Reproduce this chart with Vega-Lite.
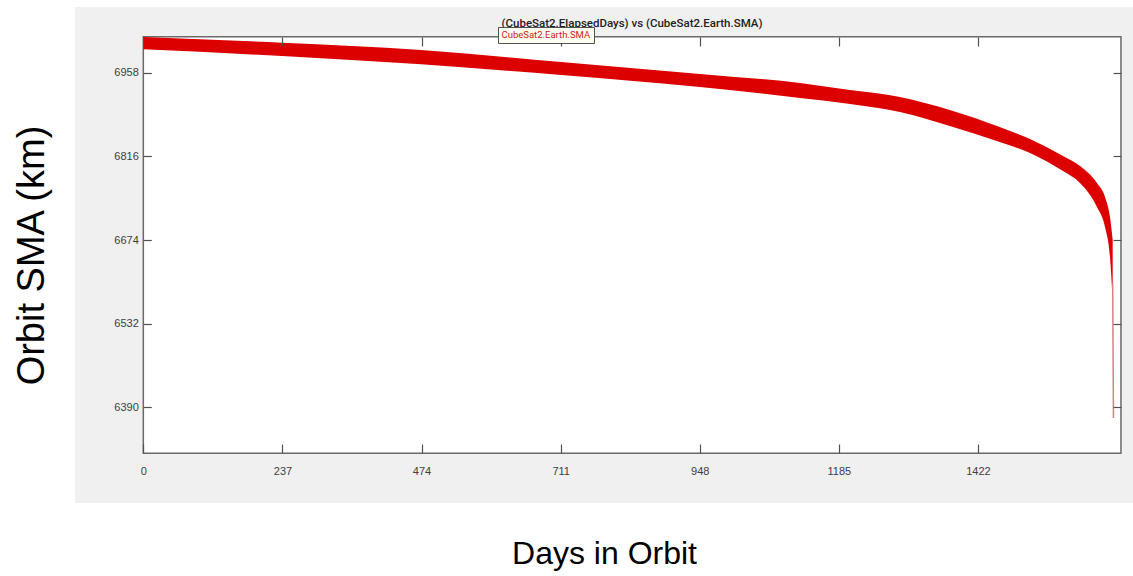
{
  "$schema": "https://vega.github.io/schema/vega-lite/v6.json",
  "width": 1058,
  "height": 496,
  "autosize": {"type": "none"},
  "padding": {"left": 75, "top": 7, "right": 0, "bottom": 73},
  "background": "white",
  "view": {"fill": "#f0f0f0", "stroke": null},
  "title": {
    "text": "(CubeSat2.ElapsedDays) vs (CubeSat2.Earth.SMA)",
    "font": "Roboto",
    "fontSize": 11.5,
    "fontWeight": 500,
    "color": "#222222",
    "anchor": "middle",
    "baseline": "middle",
    "offset": -16,
    "dx": 28,
    "dy": 12
  },
  "datasets": {
    "band": [
      {"day": 0, "hi": 7018.6, "lo": 6997.7},
      {"day": 236.3, "hi": 7008.9, "lo": 6986.3},
      {"day": 473.1, "hi": 6996.5, "lo": 6972.3},
      {"day": 711.6, "hi": 6976.2, "lo": 6954.1},
      {"day": 948.4, "hi": 6955.8, "lo": 6933.7},
      {"day": 1118.8, "hi": 6940.5, "lo": 6915.1},
      {"day": 1204, "hi": 6928.6, "lo": 6904.9},
      {"day": 1289, "hi": 6916.8, "lo": 6891.3},
      {"day": 1374, "hi": 6894.7, "lo": 6867.5},
      {"day": 1459, "hi": 6865.8, "lo": 6840.4},
      {"day": 1510.6, "hi": 6845.5, "lo": 6821.7},
      {"day": 1566.8, "hi": 6816.6, "lo": 6791.1},
      {"day": 1595.8, "hi": 6799.6, "lo": 6770.7},
      {"day": 1624.7, "hi": 6770.7, "lo": 6730.0},
      {"day": 1638.4, "hi": 6747.0, "lo": 6696.1},
      {"day": 1646.9, "hi": 6713.0, "lo": 6645.1},
      {"day": 1651.5, "hi": 6674.0, "lo": 6572.1}
    ],
    "tail": [
      {"day": 1651.5, "sma": 6600},
      {"day": 1652.8, "sma": 6372}
    ]
  },
  "resolve": {"axis": {"x": "independent", "y": "independent"}},
  "layer": [
    {
      "data": {"values": [{"box": "frame"}]},
      "mark": {"type": "rect", "fill": "white", "stroke": "#6a6a6a", "strokeWidth": 1.5},
      "encoding": {
        "x": {
          "datum": 0,
          "type": "quantitative",
          "scale": {"domain": [-116.4, 1686.1], "nice": false, "zero": false},
          "axis": {
            "orient": "bottom",
            "offset": -50,
            "values": [0, 237, 474, 711, 948, 1185, 1422],
            "format": "d",
            "title": "Days in Orbit",
            "titleFontSize": 32,
            "titlePadding": 62,
            "tickSize": -9,
            "labelPadding": 21,
            "labelFlush": false,
            "labelOverlap": false,
            "zindex": 1
          }
        },
        "x2": {"datum": 1665.6},
        "y": {
          "datum": 6311.9,
          "type": "quantitative",
          "scale": {"domain": [6227.6, 7069.5], "nice": false, "zero": false},
          "axis": {
            "orient": "left",
            "offset": -68.3,
            "values": [6390, 6532, 6674, 6816, 6958],
            "format": "d",
            "title": "Orbit SMA (km)",
            "titleFontSize": 38,
            "titlePadding": 62,
            "tickSize": -8,
            "labelPadding": 13,
            "labelFlush": false,
            "labelOverlap": false,
            "zindex": 1
          }
        },
        "y2": {"datum": 7019.1}
      }
    },
    {
      "data": {"name": "band"},
      "mark": {"type": "area", "interpolate": "monotone"},
      "encoding": {
        "x": {
          "field": "day",
          "type": "quantitative",
          "axis": {
            "orient": "top",
            "offset": -30,
            "values": [237, 474, 711, 948, 1185, 1422],
            "labels": false,
            "title": null,
            "tickSize": -9,
            "zindex": 1
          }
        },
        "y": {
          "field": "hi",
          "type": "quantitative",
          "axis": {
            "orient": "right",
            "offset": -12,
            "values": [6390, 6532, 6674, 6816, 6958],
            "labels": false,
            "title": null,
            "tickSize": -8,
            "zindex": 1
          }
        },
        "y2": {"field": "lo"},
        "color": {
          "datum": "CubeSat2.Earth.SMA",
          "scale": {"range": ["#dd0000"]},
          "legend": {
            "orient": "none",
            "legendX": 423,
            "legendY": 20,
            "title": null,
            "symbolSize": 0,
            "symbolOpacity": 0,
            "symbolStrokeWidth": 0,
            "labelFont": "Roboto",
            "labelFontSize": 9.5,
            "labelColor": "#cc2020",
            "fillColor": "#fffff2",
            "strokeColor": "#505050",
            "padding": 3,
            "labelOffset": -9,
            "zindex": 2
          }
        }
      }
    },
    {
      "data": {"name": "tail"},
      "mark": {"type": "line", "color": "#d98080", "strokeWidth": 1.5},
      "encoding": {
        "x": {"field": "day", "type": "quantitative", "axis": null},
        "y": {"field": "sma", "type": "quantitative", "axis": null}
      }
    }
  ],
  "config": {
    "axis": {
      "labelFont": "Liberation Sans",
      "labelFontSize": 11,
      "labelColor": "#404040",
      "tickColor": "#505050",
      "tickWidth": 1.2,
      "grid": false,
      "domain": false,
      "zindex": 1,
      "titleFont": "Liberation Sans",
      "titleFontWeight": "normal",
      "titleColor": "#000000"
    }
  }
}
